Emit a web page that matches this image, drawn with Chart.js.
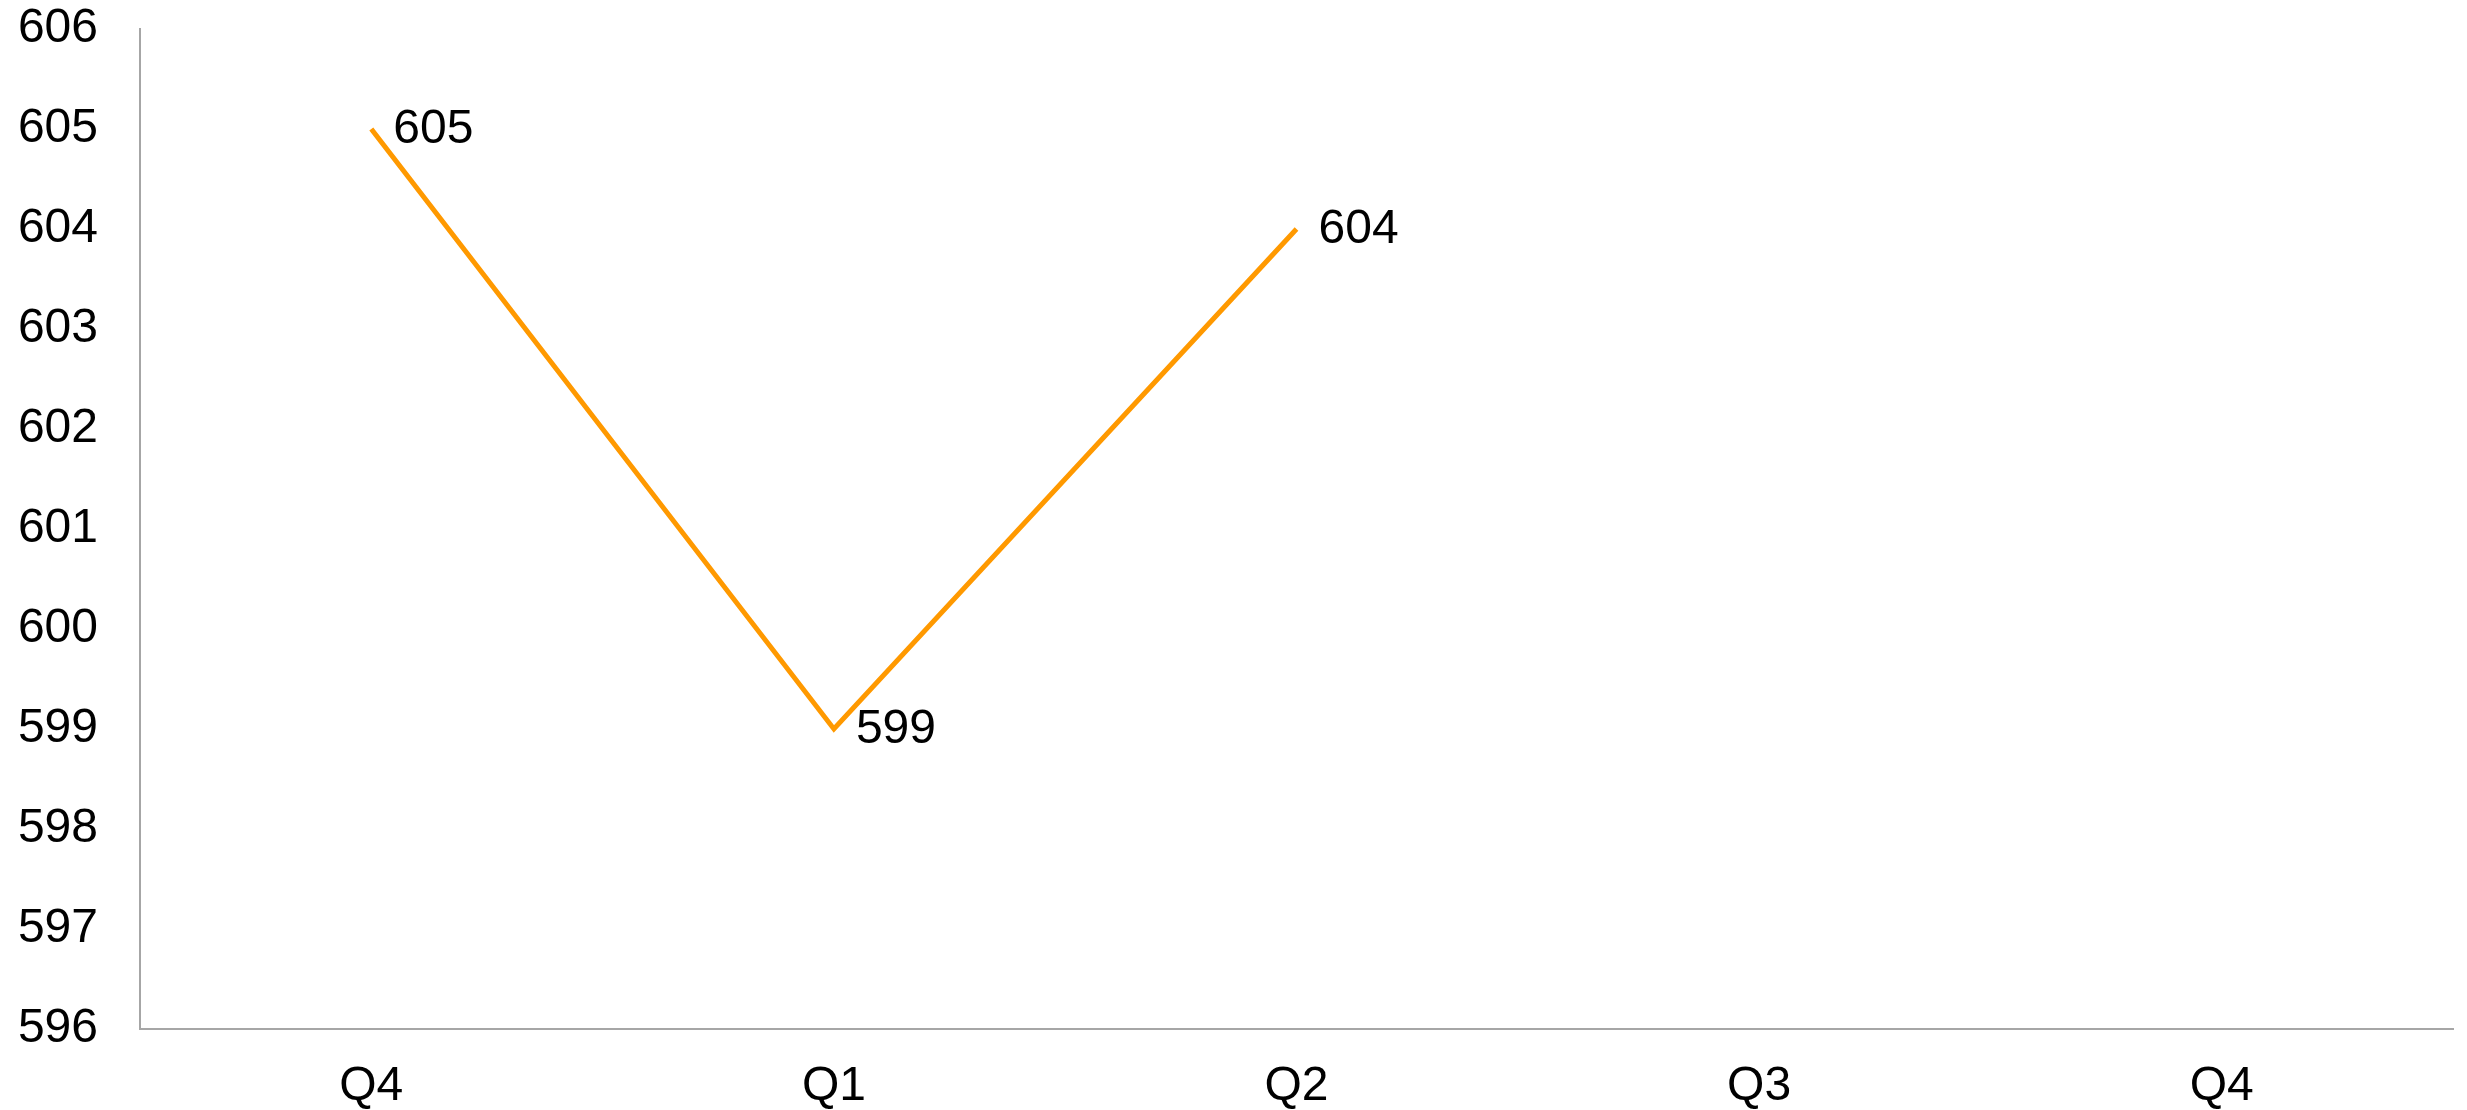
<!DOCTYPE html>
<html>
<head>
<meta charset="utf-8">
<script src="https://cdn.jsdelivr.net/npm/chart.js@4"></script>
<style>
  html, body { margin: 0; padding: 0; background: #fff; }
  canvas { display: block; }
</style>
</head>
<body>
<canvas id="chart" width="2467" height="1110"></canvas>
<script>
const quarters = ['Q4', 'Q1', 'Q2', 'Q3', 'Q4'];
const values = [605, 599, 604, null, null];
const yTicks = [596, 597, 598, 599, 600, 601, 602, 603, 604, 605, 606];

const font = { family: '"Liberation Sans", Arial, sans-serif', size: 48 };

// draws the value next to each point
const pointLabels = {
    id: 'pointLabels',
    afterDatasetsDraw(chart) {
        const ctx = chart.ctx;
        const meta = chart.getDatasetMeta(0);
        ctx.save();
        ctx.font = font.size + 'px ' + font.family;
        ctx.fillStyle = '#000';
        ctx.textAlign = 'left';
        ctx.textBaseline = 'middle';
        meta.data.forEach((pt, i) => {
            if (values[i] == null) return;
            ctx.fillText(String(values[i]), pt.x + 22, pt.y + 1);
        });
        ctx.restore();
    }
};

const chart = document.querySelector('#chart').getContext('2d');
new Chart(chart, {
    type: 'line',
    data: {
        labels: quarters,
        datasets: [{
            data: values,
            borderColor: '#FF9900',
            borderWidth: 5,
            pointRadius: 0,
            tension: 0,
            spanGaps: false
        }]
    },
    options: {
        responsive: false,
        devicePixelRatio: 1,
        animation: false,
        layout: { padding: { top: 29, right: 14, left: 0, bottom: 0 } },
        plugins: {
            legend: { display: false },
            tooltip: { enabled: false }
        },
        scales: {
            x: {
                offset: true,
                grid: { display: false, drawTicks: false },
                border: { display: true, color: '#A6A6A6', width: 2 },
                ticks: { color: '#000', font: font, padding: 29, maxRotation: 0 },
                afterFit(scale) {
                    scale.height = 81;
                    scale.paddingLeft = 0;
                    scale.paddingRight = 0;
                }
            },
            y: {
                min: 596,
                max: 606,
                afterBuildTicks(scale) {
                    scale.ticks = yTicks.map(v => ({ value: v }));
                },
                grid: { display: false, drawTicks: false },
                border: { display: true, color: '#A6A6A6', width: 2 },
                ticks: { color: '#000', font: font, padding: 42 },
                afterFit(scale) {
                    scale.width = 140;
                    scale.paddingTop = 0;
                    scale.paddingBottom = 0;
                }
            }
        }
    },
    plugins: [pointLabels]
});
</script>
</body>
</html>
